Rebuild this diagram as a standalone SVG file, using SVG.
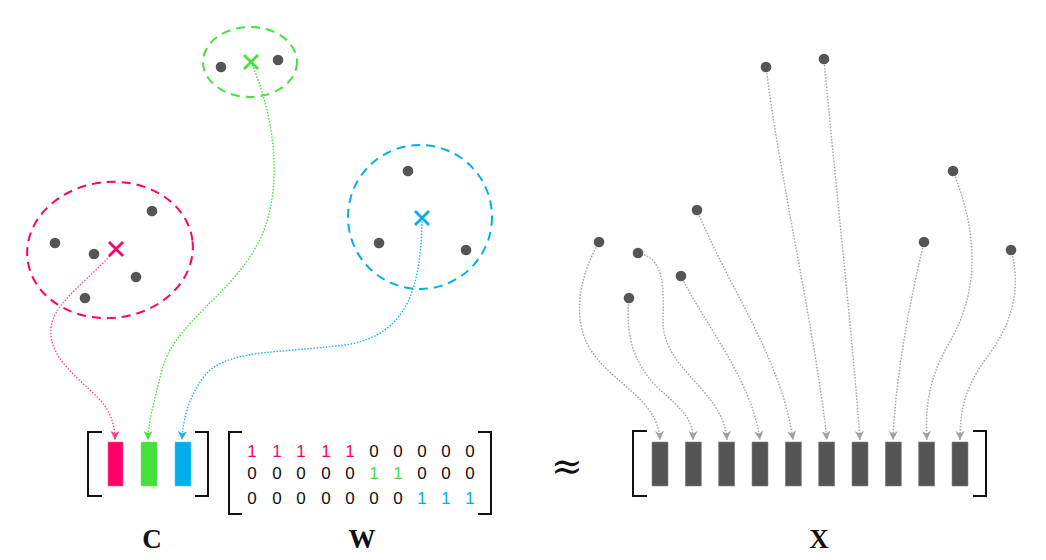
<svg xmlns="http://www.w3.org/2000/svg" width="1046" height="560" viewBox="0 0 1046 560">
<defs>
<style>
.pt{fill:#555555}
.bk{fill:none;stroke:#111;stroke-width:2}
.dig{font-family:"Liberation Sans",Arial,sans-serif;font-size:17px;text-anchor:middle;fill:#111}
.lbl{font-family:"Liberation Serif","Times New Roman",serif;font-weight:bold;font-size:27px;text-anchor:middle;fill:#111}
.c{fill:none;stroke-width:1.4;stroke-dasharray:1.5 1.6}
.g{stroke:#a0a0a0}
.bar{fill:#555555;stroke:#888;stroke-width:0.6}
.cl{fill:none;stroke-width:2;stroke-dasharray:9 6}
</style>
<marker id="ag" markerWidth="10" markerHeight="10" refX="9" refY="5" orient="auto" markerUnits="userSpaceOnUse"><path d="M0,0.5 L9,5 L0,9.5 L2.5,5 Z" fill="#a0a0a0"/></marker>
<marker id="ap" markerWidth="10" markerHeight="10" refX="9" refY="5" orient="auto" markerUnits="userSpaceOnUse"><path d="M0,0.5 L9,5 L0,9.5 L2.5,5 Z" fill="#ff3d85"/></marker>
<marker id="agr" markerWidth="10" markerHeight="10" refX="9" refY="5" orient="auto" markerUnits="userSpaceOnUse"><path d="M0,0.5 L9,5 L0,9.5 L2.5,5 Z" fill="#44e03c"/></marker>
<marker id="ab" markerWidth="10" markerHeight="10" refX="9" refY="5" orient="auto" markerUnits="userSpaceOnUse"><path d="M0,0.5 L9,5 L0,9.5 L2.5,5 Z" fill="#19b4ee"/></marker>
</defs>

<g id="connectors">
<path class="c" stroke="#ff4d8f" marker-end="url(#ap)" d="M116,249 C85,285 48,305 51,335 C54,370 100,390 110,415 C114,425 115,432 115,440"/>
<path class="c" stroke="#44e03c" marker-end="url(#agr)" d="M251,62 C272,110 285,180 262,235 C235,295 175,320 162,370 C153,405 148,425 148,440"/>
<path class="c" stroke="#19b4ee" marker-end="url(#ab)" d="M422,218 C421,280 412,335 345,345 C280,353 235,350 210,370 C192,388 183,415 182,440"/>

<path class="c g" marker-end="url(#ag)" d="M599,242 C580,275 570,320 592,352 C615,385 658,400 660,440"/>
<path class="c g" marker-end="url(#ag)" d="M629,298 C626,330 630,360 658,388 C685,412 693,420 693,440"/>
<path class="c g" marker-end="url(#ag)" d="M638,253 C664,258 664,285 663,320 C662,370 724,390 727,440"/>
<path class="c g" marker-end="url(#ag)" d="M681,276 C705,325 752,380 760,440"/>
<path class="c g" marker-end="url(#ag)" d="M697,210 C730,290 782,360 793,440"/>
<path class="c g" marker-end="url(#ag)" d="M766,67 C780,180 815,330 827,440"/>
<path class="c g" marker-end="url(#ag)" d="M824,59 C835,180 852,330 860,440"/>
<path class="c g" marker-end="url(#ag)" d="M924,242 C910,300 895,380 893,440"/>
<path class="c g" marker-end="url(#ag)" d="M953,171 C985,250 972,305 948,345 C928,380 925,410 927,440"/>
<path class="c g" marker-end="url(#ag)" d="M1011,250 C1025,300 1002,338 985,360 C965,388 960,410 960,440"/>
</g>

<g id="cluster-pink">
<ellipse class="cl" cx="110" cy="250" rx="83" ry="68" stroke="#ff0066" transform="rotate(-6 110 250)"/>
<circle class="pt" cx="152" cy="211" r="5.3"/>
<circle class="pt" cx="55" cy="243" r="5.3"/>
<circle class="pt" cx="94" cy="254" r="5.3"/>
<circle class="pt" cx="136" cy="277" r="5.3"/>
<circle class="pt" cx="85" cy="298" r="5.3"/>
<path d="M109,242 L123,256 M123,242 L109,256" stroke="#ff0066" stroke-width="2.8"/>
</g>

<g id="cluster-green">
<ellipse class="cl" cx="250" cy="62" rx="47" ry="35" stroke="#44e03c"/>
<circle class="pt" cx="221" cy="67" r="5.3"/>
<circle class="pt" cx="278" cy="60" r="5.3"/>
<path d="M244,55 L258,69 M258,55 L244,69" stroke="#44e03c" stroke-width="2.8"/>
</g>

<g id="cluster-blue">
<circle class="cl" cx="420" cy="217" r="72" stroke="#00aeef"/>
<circle class="pt" cx="408" cy="171" r="5.3"/>
<circle class="pt" cx="379" cy="243" r="5.3"/>
<circle class="pt" cx="466" cy="250" r="5.3"/>
<path d="M415,211 L429,225 M429,211 L415,225" stroke="#00aeef" stroke-width="2.8"/>
</g>

<g id="data-points">
<circle class="pt" cx="599" cy="242" r="5.3"/>
<circle class="pt" cx="629" cy="298" r="5.3"/>
<circle class="pt" cx="638" cy="253" r="5.3"/>
<circle class="pt" cx="681" cy="276" r="5.3"/>
<circle class="pt" cx="697" cy="210" r="5.3"/>
<circle class="pt" cx="766" cy="67" r="5.3"/>
<circle class="pt" cx="824" cy="59" r="5.3"/>
<circle class="pt" cx="924" cy="242" r="5.3"/>
<circle class="pt" cx="953" cy="171" r="5.3"/>
<circle class="pt" cx="1011" cy="250" r="5.3"/>
</g>

<g id="matrix-C">
<path class="bk" d="M102,432 H88 V496 H102"/>
<path class="bk" d="M195,432 H208 V496 H195"/>
<rect x="108" y="442" width="15" height="44" fill="#ff0066" stroke="#ff5c99" stroke-width="0.6"/>
<rect x="141" y="442" width="16" height="44" fill="#44e03c" stroke="#7aee74" stroke-width="0.6"/>
<rect x="175" y="442" width="16" height="44" fill="#00aeef" stroke="#5cccf5" stroke-width="0.6"/>
<text class="lbl" x="152" y="548">C</text>
</g>

<g id="matrix-W">
<path class="bk" d="M242,432 H229 V514 H242"/>
<path class="bk" d="M478,432 H491 V514 H478"/>
<g class="dig">
<text x="252" y="457" fill="#ff0066">1</text><text x="277" y="457" fill="#ff0066">1</text><text x="301" y="457" fill="#ff0066">1</text><text x="326" y="457" fill="#ff0066">1</text><text x="350" y="457" fill="#ff0066">1</text><text x="374" y="457">0</text><text x="398" y="457">0</text><text x="422" y="457">0</text><text x="446" y="457">0</text><text x="470" y="457">0</text>
<text x="252" y="479">0</text><text x="277" y="479">0</text><text x="301" y="479">0</text><text x="326" y="479">0</text><text x="350" y="479">0</text><text x="374" y="479" fill="#44e03c">1</text><text x="398" y="479" fill="#44e03c">1</text><text x="422" y="479">0</text><text x="446" y="479">0</text><text x="470" y="479">0</text>
<text x="252" y="504">0</text><text x="277" y="504">0</text><text x="301" y="504">0</text><text x="326" y="504">0</text><text x="350" y="504">0</text><text x="374" y="504">0</text><text x="398" y="504">0</text><text x="422" y="504" fill="#00aeef">1</text><text x="446" y="504" fill="#00aeef">1</text><text x="470" y="504" fill="#00aeef">1</text>
</g>
<text class="lbl" x="362" y="548">W</text>
</g>

<g id="approx">
<text x="567" y="479" font-family="'DejaVu Serif','Liberation Serif',serif" font-size="38" text-anchor="middle" fill="#111">≈</text>
</g>

<g id="matrix-X">
<path class="bk" d="M647,431 H633 V496 H647"/>
<path class="bk" d="M973,431 H986 V496 H973"/>
<rect class="bar" x="652" y="442" width="16" height="44"/>
<rect class="bar" x="685.3" y="442" width="16" height="44"/>
<rect class="bar" x="718.7" y="442" width="16" height="44"/>
<rect class="bar" x="752" y="442" width="16" height="44"/>
<rect class="bar" x="785.3" y="442" width="16" height="44"/>
<rect class="bar" x="818.7" y="442" width="16" height="44"/>
<rect class="bar" x="852" y="442" width="16" height="44"/>
<rect class="bar" x="885.3" y="442" width="16" height="44"/>
<rect class="bar" x="918.7" y="442" width="16" height="44"/>
<rect class="bar" x="952" y="442" width="16" height="44"/>
<text class="lbl" x="819" y="548">X</text>
</g>
</svg>
